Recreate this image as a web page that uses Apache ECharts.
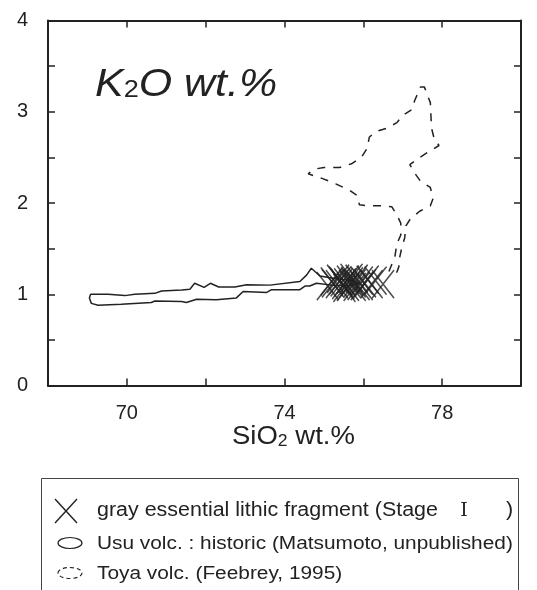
<!DOCTYPE html>
<html>
<head>
<meta charset="utf-8">
<script src="https://cdn.jsdelivr.net/npm/echarts@6/dist/echarts.min.js"></script>
<style>
html,body{margin:0;padding:0;background:#fff;}
#chart{width:537px;height:590px;}
</style>
</head>
<body>
<div id="chart"></div>
<script>
// X axis ticks / labels
var xTickLabels = [70, 74, 78];
var yTickLabels = [0, 1, 2, 3, 4];

// Gray essential lithic fragment (Stage I): SiO2, K2O
var stageSiO2 = [75.10, 75.23, 75.33, 75.41, 75.49, 75.54, 75.61, 75.66, 75.71, 75.78, 75.83, 75.88, 75.96, 76.04, 76.11, 76.21, 76.31, 76.50, 75.36, 75.61, 75.78, 75.96, 75.45, 75.70, 75.52, 75.20];
var stageK2O  = [1.09, 1.12, 1.11, 1.15, 1.10, 1.13, 1.16, 1.11, 1.14, 1.12, 1.17, 1.09, 1.15, 1.12, 1.16, 1.11, 1.15, 1.11, 1.17, 1.08, 1.08, 1.09, 1.13, 1.18, 1.07, 1.14];

// Usu volc. historic field outline
var usuSiO2 = [69.08, 69.52, 69.95, 70.2, 70.71, 70.88, 71.39, 71.6, 71.72, 71.96, 72.12, 72.33, 72.74, 73.04, 73.63, 74.39, 74.56, 74.68, 74.9, 75.3, 75.7, 75.9,
               75.6, 75.2, 74.81, 74.64, 74.52, 74.39, 73.67, 73.55, 72.95, 72.78, 72.27, 71.77, 71.51, 71.39, 70.71, 70.62, 69.86, 69.27, 69.1, 69.05, 69.08];
var usuK2O  = [1.0, 1.0, 0.985, 1.0, 1.01, 1.036, 1.047, 1.055, 1.12, 1.075, 1.12, 1.08, 1.08, 1.105, 1.10, 1.14, 1.21, 1.285, 1.2, 1.17, 1.15, 1.12,
               1.09, 1.1, 1.12, 1.09, 1.09, 1.05, 1.05, 1.02, 1.03, 0.96, 0.94, 0.945, 0.91, 0.92, 0.926, 0.91, 0.89, 0.88, 0.9, 0.96, 1.0];

// Toya volc. field outline
var toyaSiO2 = [76.65, 76.8, 76.85, 76.95, 76.95, 76.85, 76.72, 76.45, 76.1, 75.9, 75.85, 75.65, 75.3, 74.95, 74.6, 74.75, 75.0, 75.4, 75.7, 75.95, 76.1, 76.15, 76.3, 76.6, 76.85, 77.0, 77.25, 77.3, 77.45, 77.55, 77.7, 77.73, 77.8, 77.92, 77.65, 77.4, 77.18, 77.3, 77.45, 77.7, 77.77, 77.7, 77.43, 77.2, 77.08, 77.05, 76.97, 76.92, 76.9, 76.85, 76.65];
var toyaK2O  = [1.25, 1.41, 1.55, 1.65, 1.78, 1.87, 1.96, 1.97, 1.97, 1.98, 2.08, 2.14, 2.21, 2.27, 2.32, 2.37, 2.39, 2.39, 2.43, 2.5, 2.6, 2.72, 2.78, 2.82, 2.88, 2.96, 3.03, 3.12, 3.27, 3.27, 3.1, 2.82, 2.7, 2.63, 2.56, 2.49, 2.42, 2.33, 2.24, 2.17, 2.05, 1.97, 1.91, 1.83, 1.75, 1.62, 1.5, 1.40, 1.30, 1.24, 1.25];

function zip(a, b) { return a.map(function (v, i) { return [v, b[i]]; }); }

var FONT = '"Liberation Sans", Arial, sans-serif';
var INK = '#222';

var chart = echarts.init(document.getElementById('chart'), null, {renderer: 'canvas'});

function axisCommon(extra) {
  var o = {
    axisLine: {show: true, onZero: false, lineStyle: {color: INK, width: 2}},
    axisTick: {show: true, inside: true, length: 7, lineStyle: {color: INK, width: 1.5}},
    splitLine: {show: false}
  };
  for (var k in extra) o[k] = extra[k];
  return o;
}

var option = {
  animation: false,
  backgroundColor: '#fff',
  grid: {left: 48, top: 20.5, right: 16, bottom: 204.5, containLabel: false},
  xAxis: [
    axisCommon({type: 'value', position: 'bottom', min: 68, max: 80, interval: 2,
      axisLabel: {show: true, margin: 18, fontFamily: FONT, fontSize: 20, color: INK,
        formatter: function (v) { return xTickLabels.indexOf(v) >= 0 ? String(v) : ''; }}}),
    axisCommon({type: 'value', position: 'top', min: 68, max: 80, interval: 2, axisLabel: {show: false}})
  ],
  yAxis: [
    axisCommon({type: 'value', position: 'left', min: 0, max: 4, interval: 0.5,
      axisLabel: {show: true, margin: 20, fontFamily: FONT, fontSize: 20, color: INK,
        formatter: function (v) { return yTickLabels.indexOf(v) >= 0 ? String(v) : ''; }}}),
    axisCommon({type: 'value', position: 'right', min: 0, max: 4, interval: 0.5, axisLabel: {show: false}})
  ],
  series: [
    {type: 'line', name: 'Usu', data: zip(usuSiO2, usuK2O), symbol: 'none', smooth: false,
      lineStyle: {color: INK, width: 1.5}, silent: true, z: 2},
    {type: 'line', name: 'Toya', data: zip(toyaSiO2, toyaK2O), symbol: 'none', smooth: false,
      lineStyle: {color: INK, width: 1.5, type: [8, 8]}, silent: true, z: 2},
    {type: 'scatter', name: 'Stage I', data: zip(stageSiO2, stageK2O),
      symbol: 'path://M0,0L20,26M20,0L0,26', symbolSize: [22, 28],
      itemStyle: {color: 'none', borderColor: INK, borderWidth: 1.6}, silent: true, z: 3}
  ],
  graphic: [
    {type: 'text', x: 95, y: 66, scaleX: 1.13, silent: true,
      style: {text: '{a|K}{b|2}{a|O wt.%}', fill: INK,
        rich: {a: {fontFamily: FONT, fontSize: 38, fontStyle: 'italic', fill: INK},
               b: {fontFamily: FONT, fontSize: 24, fill: INK, padding: [10, 0, 0, 0]}}}},
    {type: 'text', x: 232, y: 425, scaleX: 1.1, silent: true,
      style: {text: '{a|SiO}{b|2}{a| wt.%}', fill: INK,
        rich: {a: {fontFamily: FONT, fontSize: 25, fill: INK},
               b: {fontFamily: FONT, fontSize: 16, fill: INK, padding: [9, 0, 0, 0]}}}},
    // legend box
    {type: 'rect', silent: true, shape: {x: 41.5, y: 478.5, width: 477, height: 130},
      style: {fill: 'none', stroke: '#444', lineWidth: 1}},
    {type: 'line', silent: true, shape: {x1: 55, y1: 499, x2: 77, y2: 523}, style: {stroke: INK, lineWidth: 1.4}},
    {type: 'line', silent: true, shape: {x1: 77, y1: 499, x2: 55, y2: 523}, style: {stroke: INK, lineWidth: 1.4}},
    {type: 'text', silent: true, x: 97, y: 511, scaleX: 1.1,
      style: {text: 'gray essential lithic fragment (Stage', fontFamily: FONT, fontSize: 19.5, fill: INK, verticalAlign: 'middle'}},
    {type: 'text', silent: true, x: 464, y: 511,
      style: {text: 'Ⅰ', fontFamily: '"DejaVu Serif", "Liberation Serif", serif', fontSize: 19, fill: INK, align: 'center', verticalAlign: 'middle'}},
    {type: 'text', silent: true, x: 506, y: 511, scaleX: 1.1,
      style: {text: ')', fontFamily: FONT, fontSize: 19.5, fill: INK, verticalAlign: 'middle'}},
    {type: 'ellipse', silent: true, shape: {cx: 70, cy: 543, rx: 12, ry: 5.5},
      style: {fill: 'none', stroke: INK, lineWidth: 1.2}},
    {type: 'text', silent: true, x: 97, y: 544, scaleX: 1.14,
      style: {text: 'Usu volc. : historic (Matsumoto, unpublished)', fontFamily: FONT, fontSize: 18.3, fill: INK, verticalAlign: 'middle'}},
    {type: 'ellipse', silent: true, shape: {cx: 70, cy: 573, rx: 12, ry: 5.5},
      style: {fill: 'none', stroke: INK, lineWidth: 1.2, lineDash: [4, 3]}},
    {type: 'text', silent: true, x: 97, y: 574, scaleX: 1.14,
      style: {text: 'Toya volc. (Feebrey, 1995)', fontFamily: FONT, fontSize: 18.3, fill: INK, verticalAlign: 'middle'}}
  ]
};
chart.setOption(option);
</script>
</body>
</html>
